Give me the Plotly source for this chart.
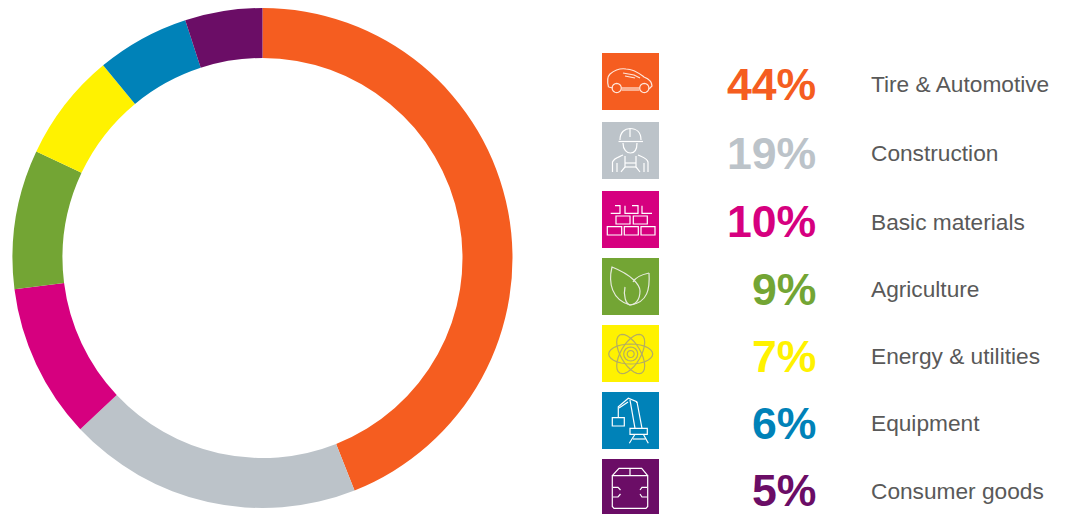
import math
import re
import plotly.graph_objects as go

categories = ["Tire & Automotive", "Construction", "Basic materials", "Agriculture",
              "Energy & utilities", "Equipment", "Consumer goods"]
shares = [44, 19, 10, 9, 7, 6, 5]
colors = ["#F55D20", "#BCC3C9", "#D6007F", "#73A534", "#FFF200", "#0082B8", "#6B0D66"]

W, H = 1068, 514
ROW_TOPS = [53, 122, 191, 258, 325, 392, 459]
ROW_SIZES = [57, 57, 57, 57, 57, 57, 55]
PCT_CY = [85, 153, 221, 289, 356, 423, 490]
LBL_CY = [84, 153, 222, 289, 356, 423, 491]
SQ_X = 602


def px(x):
    return x / W


def py(y):
    return 1 - y / H


def local_path(d, ox, oy):
    """Shift icon outline (local pixels) to paper coordinates."""
    out, i = [], 0
    for tok in re.findall(r"[MLQCZ]|-?\d+\.?\d*", d):
        if tok.isalpha():
            out.append(tok)
        else:
            v = float(tok)
            out.append(f"{px(ox + v):.5f}" if i % 2 == 0 else f"{py(oy + v):.5f}")
            i += 1
    return " ".join(out)


def circle(cx, cy, r):
    pts = [(cx + r * math.cos(t / 16 * 2 * math.pi), cy + r * math.sin(t / 16 * 2 * math.pi)) for t in range(16)]
    return "M" + " L".join(f"{a:.2f},{b:.2f}" for a, b in pts) + " Z"


def ellipse(cx, cy, rx, ry, deg):
    r = math.radians(deg)
    pts = []
    for k in range(28):
        t = k / 28 * 2 * math.pi
        a, b = rx * math.cos(t), ry * math.sin(t)
        pts.append((cx + a * math.cos(r) - b * math.sin(r), cy + a * math.sin(r) + b * math.cos(r)))
    return "M" + " L".join(f"{a:.2f},{b:.2f}" for a, b in pts) + " Z"


def rect(x0, y0, x1, y1):
    return f"M{x0},{y0} L{x1},{y0} L{x1},{y1} L{x0},{y1} Z"


icons = [
    # car
    ["M6.5,34 C5,28 5,24 8,21 C13,17 18,15 24,16 C32,16 38,21 42,24 C47,26 50,29 50,33 L47,36",
     "M11,35 L6.5,34", "M19.5,35 L37.5,35", "M19.5,37 L37.5,37",
     "M21,20 L32,22 L38,25", "M23,23 L33,25",
     circle(14.7, 35, 4.6), circle(42.3, 35, 4.6)],
    # worker
    ["M18,18 C18,10 23,6.5 28,6.5 C34,6.5 39,10 39,18", "M16.5,19.5 L41,19.5",
     "M28,7 L28,15", "M21,21 C21,28 25,31 28.5,31 C32,31 35,28 35,21",
     "M10.5,50 L10.5,40 C12,36 17,35 21,33", "M46,50 L46,40 C45,36 40,35 36,33",
     "M15,50 L15,41", "M42,50 L42,41",
     "M23,34 L23,45 L19,50", "M34,34 L34,45 L38,50", "M23,41 L34,41", "M23,45 L34,45"],
    # bricks
    ["M8.7,22.3 L18,22.3 L18,14.7 L13,14.7", "M23,14.7 L23,22.3 L36,22.3 L36,14.7 L30,14.7",
     "M40,14.7 L40,22.3 L50,22.3", rect(14, 25, 28, 33), rect(31.3, 25, 45.3, 33),
     rect(5.3, 35.7, 19.7, 44), rect(22.3, 35.7, 36.3, 44), rect(39, 35.7, 53, 44)],
    # leaves
    ["M10,9 C6,25 10,42 28,47 C33,47 38,42 38,33 C38,27 30,17 10,9 Z",
     "M47,15 C38,17 33,20 31,24", "M47,15 C48,30 46,45 28,47 C24,46 21,38 23,29"],
    # atom
    [ellipse(28.7, 29, 22, 10, 0), ellipse(28.7, 29, 22, 10, 60), ellipse(28.7, 29, 22, 10, 120),
     circle(28.7, 29, 7), circle(28.7, 29, 3.5)],
    # crane
    [rect(10.3, 25.7, 22.3, 34), "M16.3,25.7 L16.3,14.7 L26.3,6.3 L34.7,9.7 L34.7,11",
     "M17,16 L26,10", "M28,8 L33,36.3", "M35,10 L40,36.3", rect(28, 36.3, 45.3, 42.3),
     "M33,42.3 L27.3,51.3", "M41.3,42.3 L46.3,51.3", "M31,47 L43.5,47"],
    # box
    ["M10.3,16.7 L10.3,47.5 L12,49.3 L44,49.3 L45.7,47.5 L45.7,16.7 Z",
     "M10.3,16.7 L17,9.3 L39.7,9.3 L45.7,16.7", "M28,9.3 L28,16.7",
     "M11,28.3 L16,28.3 L18.5,31", "M18.5,35 L16,38 L11,38",
     "M45,28.3 L40,28.3 L38,31", "M38,35 L40,38 L45,38"],
]
icon_line = ["#FFE6DA", "#FFFFFF", "#FFFFFF", "#E6EBDC", "#B5AE60", "#FFFFFF", "#FFFFFF"]

shapes, annotations = [], []
for i, cat in enumerate(categories):
    top, size = ROW_TOPS[i], ROW_SIZES[i]
    shapes.append(dict(type="rect", xref="paper", yref="paper", x0=px(SQ_X), x1=px(SQ_X + 57),
                       y0=py(top + size), y1=py(top), fillcolor=colors[i], line=dict(width=0), layer="above"))
    for d in icons[i]:
        shapes.append(dict(type="path", xref="paper", yref="paper", path=local_path(d, SQ_X, top),
                           line=dict(color=icon_line[i], width=1.2), layer="above"))
    annotations.append(dict(x=px(815), y=py(PCT_CY[i]), xref="paper", yref="paper", xanchor="right",
                            yanchor="middle", showarrow=False, xshift=2.5, text=f"<b>{shares[i]}%</b>",
                            font=dict(family="Liberation Sans", size=44.6, color=colors[i])))
    annotations.append(dict(x=px(871), y=py(LBL_CY[i]), xref="paper", yref="paper", xanchor="left",
                            yanchor="middle", showarrow=False, xshift=-2, text=cat,
                            font=dict(family="Liberation Sans", size=22.7, color="#595959")))

fig = go.Figure(go.Pie(
    labels=categories, values=shares, sort=False, direction="clockwise", rotation=0, hole=0.8,
    marker=dict(colors=colors, line=dict(width=0)), textinfo="none", hoverinfo="label+percent",
    domain=dict(x=[px(12.5), px(512.5)], y=[py(508), py(8)]),
))
fig.update_layout(width=W, height=H, margin=dict(l=0, r=0, t=0, b=0), showlegend=False,
                  paper_bgcolor="white", plot_bgcolor="white", shapes=shapes, annotations=annotations)
fig.write_html("out.html", config=dict(displayModeBar=False),
               post_script="document.body.style.margin='0';document.body.style.overflow='hidden';")
